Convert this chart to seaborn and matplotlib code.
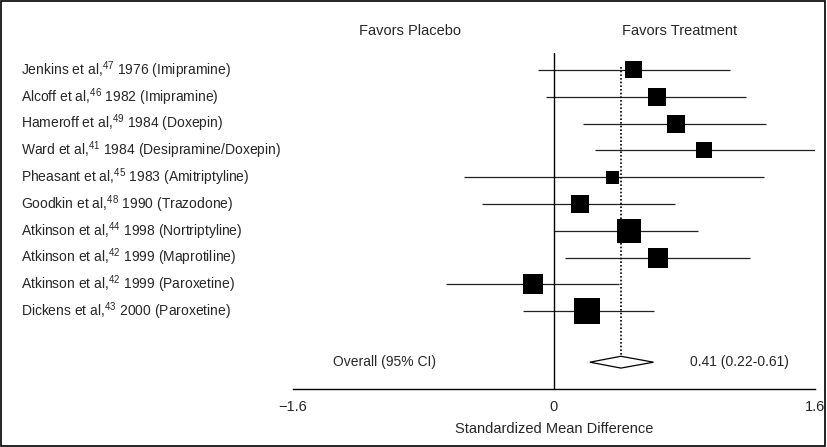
import numpy as np
import pandas as pd
import seaborn as sns
from matplotlib import pyplot as plt
from matplotlib import transforms
from matplotlib.patches import Polygon, Rectangle

# study data
studies = ["Jenkins et al,$^{47}$ 1976 (Imipramine)",
           "Alcoff et al,$^{46}$ 1982 (Imipramine)",
           "Hameroff et al,$^{49}$ 1984 (Doxepin)",
           "Ward et al,$^{41}$ 1984 (Desipramine/Doxepin)",
           "Pheasant et al,$^{45}$ 1983 (Amitriptyline)",
           "Goodkin et al,$^{48}$ 1990 (Trazodone)",
           "Atkinson et al,$^{44}$ 1998 (Nortriptyline)",
           "Atkinson et al,$^{42}$ 1999 (Maprotiline)",
           "Atkinson et al,$^{42}$ 1999 (Paroxetine)",
           "Dickens et al,$^{43}$ 2000 (Paroxetine)"]
smd     = [0.49, 0.63, 0.75, 0.92, 0.36, 0.16, 0.46, 0.64, -0.13, 0.20]
ci_low  = [-0.10, -0.05, 0.18, 0.25, -0.55, -0.44, 0.00, 0.07, -0.66, -0.19]
ci_high = [1.08, 1.18, 1.30, 1.60, 1.29, 0.74, 0.88, 1.20, 0.40, 0.61]
weights = [7.7, 8.7, 8.7, 6.8, 4.5, 8.7, 15.4, 10.7, 10.7, 18.1]

overall     = 0.41
overall_low = 0.22
overall_hi  = 0.61

xticks      = [-1.6, 0, 1.6]
xticklabels = ["\u22121.6", "0", "1.6"]

df = pd.DataFrame({'study': studies, 'smd': smd, 'lo': ci_low,
                   'hi': ci_high, 'weight': weights})
df['row'] = np.arange(len(df))

sns.set_style('white')
plt.rcParams['font.family'] = ['Liberation Sans', 'DejaVu Sans']
plt.rcParams['mathtext.default'] = 'regular'
plt.rcParams['font.size'] = 10

fig = plt.figure(figsize=(8.27, 4.47), dpi=100)
ax = fig.add_axes([293/827, 58/447, 522/827, 336/447])

ROW_OVERALL = 10.9
ax.set_xlim(-1.6, 1.6)
ax.set_ylim(11.9, -0.63)

# CI lines
ax.hlines(df['row'], df['lo'], df['hi'], color='#222222', lw=0.9, zorder=1)
# zero line
ax.axvline(0, color='black', lw=1, zorder=1)
# pooled estimate dotted line
ax.vlines(overall, -0.1, ROW_OVERALL - 0.22, color='black', lw=1.2,
          linestyles=(0, (1, 1.2)), zorder=2)

sns.scatterplot(data=df, x='smd', y='row', size='weight', sizes=(87.6, 350),
                marker='s', color='black', linewidth=0, legend=False,
                ax=ax, zorder=3)

# diamond for overall
h = 0.22
diamond = Polygon([(overall_low, ROW_OVERALL), (overall, ROW_OVERALL - h),
                   (overall_hi, ROW_OVERALL), (overall, ROW_OVERALL + h)],
                  closed=True, facecolor='white', edgecolor='black', lw=0.9,
                  zorder=3)
ax.add_patch(diamond)

# study labels on the left
trans = transforms.blended_transform_factory(fig.transFigure, ax.transData)
for _, r in df.iterrows():
    ax.text(21/827, r['row'], r['study'], transform=trans, ha='left',
            va='center', clip_on=False)

ax.text(-1.04, ROW_OVERALL, "Overall (95% CI)", ha='center', va='center')
ax.text(0.835, ROW_OVERALL, "%.2f (%.2f-%.2f)" % (overall, overall_low, overall_hi),
        ha='left', va='center')

ax.text(-0.88, -1.46, "Favors Placebo", ha='center', va='center',
        clip_on=False, fontsize=10.5)
ax.text(0.77, -1.46, "Favors Treatment", ha='center', va='center',
        clip_on=False, fontsize=10.5)

# axes styling
for s in ['top', 'left', 'right']:
    ax.spines[s].set_visible(False)
ax.spines['bottom'].set_color('black')
ax.spines['bottom'].set_linewidth(1)
ax.set_yticks([])
ax.set_xticks(xticks)
ax.set_xticklabels(xticklabels, fontsize=10.5)
ax.tick_params(axis='x', direction='out', length=5, width=1, color='black', pad=3)
ax.set_xlabel("Standardized Mean Difference", fontsize=10.5, labelpad=6)
ax.set_ylabel("")

fig.patches.append(Rectangle((0.001, 0.002), 0.997, 0.995, transform=fig.transFigure,
                             fill=False, edgecolor='black', lw=1.2))

plt.savefig('out.png', dpi=100)
